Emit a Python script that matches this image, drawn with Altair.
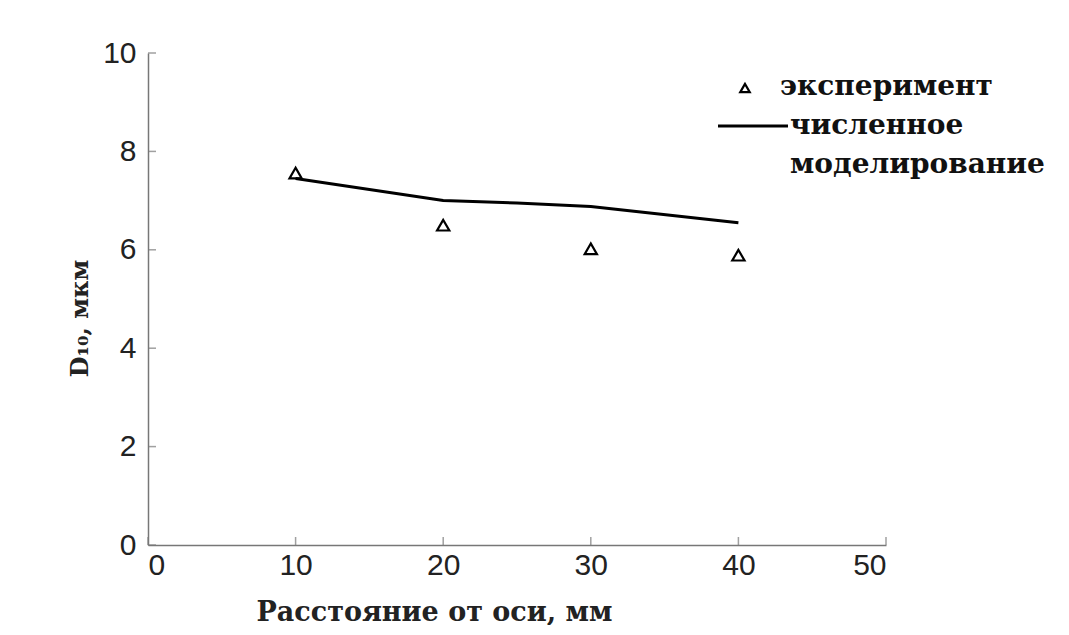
import altair as alt
import pandas as pd

# Experimental points
exp_x = [10, 20, 30, 40]
exp_y = [7.56, 6.50, 6.02, 5.89]

# Numerical simulation curve
sim_x = [10, 20, 25, 30, 40]
sim_y = [7.45, 7.00, 6.95, 6.88, 6.55]

x_ticks = [0, 10, 20, 30, 40, 50]
y_ticks = [0, 2, 4, 6, 8, 10]

legend_exp = "эксперимент"
legend_sim = ["численное", "моделирование"]

x_title = "Расстояние от оси, мм"
y_title = "D₁₀, мкм"

W, H = 738, 492

exp_df = pd.DataFrame({"x": exp_x, "y": exp_y})
sim_df = pd.DataFrame({"x": sim_x, "y": sim_y})
xt_df = pd.DataFrame({"v": x_ticks})
yt_df = pd.DataFrame({"v": y_ticks})

xscale = alt.Scale(domain=[0, 50], nice=False, zero=False)
yscale = alt.Scale(domain=[0, 10], nice=False, zero=False)

label_font = "Liberation Sans"
serif = "DejaVu Serif"

x_axis = alt.Axis(
    title=x_title, values=x_ticks, tickSize=0, grid=False,
    labelFont=label_font, labelFontSize=30, labelColor="#222",
    labelPadding=5, domainColor="#777", domainWidth=1.5,
    titleFont=serif, titleFontWeight="bold", titleFontSize=27,
    titleColor="#222", titleX=286, titleY=67, titleAlign="center",
    titleBaseline="middle",
)
y_axis = alt.Axis(
    title=y_title, values=y_ticks, tickSize=0, grid=False,
    labelFont=label_font, labelFontSize=30, labelColor="#222",
    labelPadding=12, domainColor="#777", domainWidth=1.5,
    titleFont=serif, titleFontWeight="bold", titleFontSize=24,
    titleColor="#222", titleX=-68, titleY=265, titleAlign="center",
    titleBaseline="middle",
)

line = alt.Chart(sim_df).mark_line(color="black", strokeWidth=3).encode(
    x=alt.X("x:Q", scale=xscale, axis=x_axis),
    y=alt.Y("y:Q", scale=yscale, axis=y_axis),
)

pts = alt.Chart(exp_df).mark_point(
    shape="triangle-up", filled=False, color="black", strokeWidth=2.2,
    size=150, opacity=1
).encode(
    x=alt.X("x:Q", scale=xscale),
    y=alt.Y("y:Q", scale=yscale),
)

xticks = alt.Chart(xt_df).mark_tick(
    orient="vertical", size=8, thickness=1.5, color="#777"
).encode(
    x=alt.X("v:Q", scale=xscale),
    y=alt.value(H - 4),
)
yticks = alt.Chart(yt_df).mark_tick(
    orient="horizontal", size=8, thickness=1.5, color="#777"
).encode(
    y=alt.Y("v:Q", scale=yscale),
    x=alt.value(4),
)

leg_df = pd.DataFrame({"k": [0]})
leg_tri = alt.Chart(leg_df).mark_point(
    shape="triangle-up", filled=False, color="black", strokeWidth=2.2,
    size=90, opacity=1
).encode(x=alt.value(597), y=alt.value(35))
leg_line = alt.Chart(leg_df).mark_rule(color="black", strokeWidth=3).encode(
    x=alt.value(570), x2=alt.value(640), y=alt.value(73)
)
leg_t1 = alt.Chart(leg_df).mark_text(
    text=legend_exp, font=serif, fontWeight="bold", fontSize=28,
    align="left", baseline="middle", color="#111"
).encode(x=alt.value(632), y=alt.value(34))
leg_t2 = alt.Chart(leg_df).mark_text(
    text=legend_sim, font=serif, fontWeight="bold", fontSize=28,
    align="left", baseline="middle", color="#111", lineHeight=39
).encode(x=alt.value(642), y=alt.value(73))

chart = alt.layer(line, pts, xticks, yticks, leg_tri, leg_line, leg_t1, leg_t2).properties(
    width=W, height=H,
    autosize=alt.AutoSizeParams(type="none"),
    padding={"left": 140, "top": 45, "right": 170, "bottom": 80},
    background="white",
).configure_view(stroke=None)

chart.save("out.html", embed_options={"renderer": "svg", "actions": False})
